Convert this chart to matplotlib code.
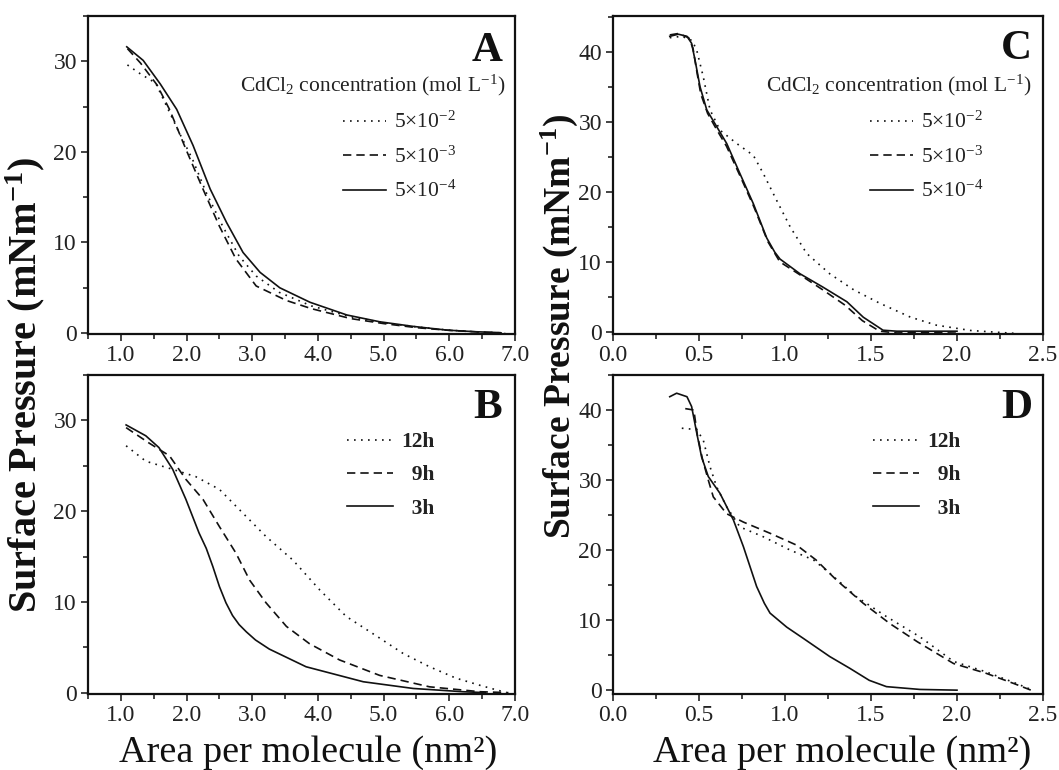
import matplotlib
matplotlib.use("Agg")
import matplotlib.pyplot as plt
from matplotlib.ticker import MultipleLocator, FormatStrFormatter
from matplotlib.lines import Line2D

plt.rcParams['font.family'] = ['Liberation Serif', 'DejaVu Serif']
plt.rcParams['mathtext.fontset'] = 'custom'
plt.rcParams['mathtext.rm'] = 'Liberation Serif'
plt.rcParams['mathtext.it'] = 'Liberation Serif:italic'
plt.rcParams['mathtext.bf'] = 'Liberation Serif:bold'

# ---------------- data ----------------
# Panel A : CdCl2 concentration series
A_x_e2 = [1.10, 1.30, 1.53, 1.70, 1.89, 2.09, 2.30, 2.55, 2.80, 3.06, 3.41, 3.90, 4.50, 5.00, 5.50, 6.00, 6.50, 6.85]
A_y_e2 = [29.6, 28.6, 27.6, 25.0, 22.1, 19.2, 15.5, 11.8, 8.5, 6.3, 4.5, 3.0, 1.8, 1.15, 0.68, 0.32, 0.1, 0.0]
A_x_e3 = [1.10, 1.30, 1.55, 1.74, 1.99, 2.25, 2.50, 2.75, 3.06, 3.52, 3.90, 4.50, 5.00, 5.50, 6.00, 6.50, 6.80]
A_y_e3 = [31.4, 29.8, 27.4, 24.7, 20.3, 15.9, 11.8, 8.2, 5.2, 3.6, 2.7, 1.6, 1.05, 0.6, 0.3, 0.1, 0.02]
A_x_e4 = [1.09, 1.34, 1.60, 1.85, 2.10, 2.36, 2.61, 2.86, 3.12, 3.42, 3.88, 4.44, 4.94, 5.45, 5.96, 6.40, 6.77]
A_y_e4 = [31.6, 30.1, 27.5, 24.7, 20.7, 15.9, 12.2, 8.9, 6.7, 5.0, 3.4, 2.0, 1.25, 0.74, 0.33, 0.15, 0.05]

# Panel B : time series
B_x_12h = [1.08, 1.38, 1.79, 2.14, 2.50, 2.80, 3.21, 3.62, 4.03, 4.43, 4.90, 5.30, 5.70, 6.10, 6.47, 6.87]
B_y_12h = [27.2, 25.5, 24.6, 23.8, 22.4, 20.2, 17.2, 14.6, 11.3, 8.4, 6.2, 4.3, 2.85, 1.6, 0.8, 0.0]
B_x_9h = [1.08, 1.43, 1.74, 1.99, 2.25, 2.50, 2.75, 2.96, 3.21, 3.52, 3.87, 4.33, 4.94, 5.70, 6.47, 6.90]
B_y_9h = [29.2, 27.5, 26.1, 23.5, 21.3, 18.3, 15.4, 12.4, 9.9, 7.3, 5.4, 3.6, 1.9, 0.64, 0.1, 0.0]
B_x_3h = [1.08, 1.38, 1.58, 1.79, 1.99, 2.19, 2.30, 2.40, 2.50, 2.60, 2.70, 2.80, 2.91, 3.05, 3.26, 3.82, 4.69, 5.45, 6.21, 6.55]
B_y_3h = [29.5, 28.3, 27.0, 24.6, 21.3, 17.6, 15.9, 13.9, 11.7, 9.9, 8.5, 7.5, 6.7, 5.8, 4.8, 2.85, 1.2, 0.46, 0.1, 0.0]

# Panel C : CdCl2 concentration series
C_x_e2 = [0.33, 0.40, 0.46, 0.487, 0.525, 0.564, 0.622, 0.719, 0.816, 0.874, 0.951, 1.03, 1.126, 1.26, 1.40, 1.55, 1.73, 1.88, 2.08, 2.20, 2.33]
C_y_e2 = [42.0, 42.2, 41.6, 40.2, 36.4, 31.7, 28.8, 26.9, 25.2, 22.6, 18.8, 15.0, 11.2, 8.3, 6.0, 4.1, 2.1, 0.96, 0.2, 0.0, -0.2]
C_x_e3 = [0.33, 0.38, 0.44, 0.465, 0.485, 0.51, 0.55, 0.60, 0.66, 0.74, 0.82, 0.90, 0.97, 1.09, 1.22, 1.35, 1.45, 1.55, 1.65, 1.80, 2.00]
C_y_e3 = [42.4, 42.6, 42.0, 40.5, 37.5, 34.0, 31.2, 29.0, 26.5, 22.2, 17.8, 12.9, 10.0, 8.1, 6.0, 3.8, 1.6, 0.1, -0.15, -0.1, 0.0]
C_x_e4 = [0.33, 0.38, 0.43, 0.457, 0.477, 0.506, 0.545, 0.603, 0.661, 0.738, 0.816, 0.894, 0.94, 0.971, 1.087, 1.22, 1.36, 1.455, 1.57, 1.65, 1.78, 2.00]
C_y_e4 = [42.2, 42.5, 42.2, 41.2, 38.8, 35.0, 31.7, 29.3, 26.9, 22.6, 18.3, 13.4, 11.4, 10.4, 8.3, 6.4, 4.3, 2.1, 0.24, 0.1, 0.1, 0.1]

# Panel D : time series
D_x_12h = [0.40, 0.487, 0.525, 0.564, 0.603, 0.66, 0.738, 0.874, 1.03, 1.165, 1.26, 1.417, 1.59, 1.785, 1.98, 2.17, 2.33, 2.43]
D_y_12h = [37.4, 37.2, 35.7, 31.9, 29.0, 26.2, 23.3, 21.9, 20.0, 18.6, 16.7, 13.3, 10.5, 7.6, 4.1, 2.6, 1.1, 0.1]
D_x_9h = [0.42, 0.47, 0.49, 0.52, 0.554, 0.583, 0.66, 0.758, 0.913, 1.068, 1.18, 1.30, 1.455, 1.61, 1.77, 1.98, 2.17, 2.33, 2.43]
D_y_9h = [40.2, 40.0, 36.5, 33.0, 30.0, 27.6, 25.2, 24.0, 22.4, 20.7, 18.6, 15.7, 12.4, 9.5, 6.9, 3.8, 2.4, 0.95, 0.0]
D_x_3h = [0.33, 0.37, 0.43, 0.457, 0.487, 0.515, 0.554, 0.622, 0.70, 0.758, 0.835, 0.88, 0.913, 1.01, 1.106, 1.26, 1.378, 1.49, 1.59, 1.785, 2.00]
D_y_3h = [41.9, 42.4, 41.9, 40.5, 36.7, 33.3, 30.5, 28.1, 24.3, 20.5, 14.8, 12.4, 11.0, 9.0, 7.4, 4.8, 3.1, 1.4, 0.5, 0.1, 0.0]

conc_labels = ['5\u00d710$^{-2}$', '5\u00d710$^{-3}$', '5\u00d710$^{-4}$']
time_labels = ['12h', '  9h', '  3h']
panel_letters = ['A', 'B', 'C', 'D']
legend_title = 'CdCl$_2$ concentration (mol L$^{-1}$)'
xlabel = 'Area per molecule (nm\u00b2)'
ylabel = 'Surface Pressure (mNm$^{\\mathbf{-1}}$)'

# ---------------- styles ----------------
DOT = (0, (1.0, 3.2))
DASH = (0, (5.0, 3.0))
SOLID = '-'
styles = [DOT, DASH, SOLID]
LW = 1.2
INK = '#111111'

fig = plt.figure(figsize=(10.59, 7.70), dpi=100)
W, H = 1059.0, 770.0

def rect(l, r, t, b):
    return [l / W, 1 - b / H, (r - l) / W, (b - t) / H]

axA = fig.add_axes(rect(88, 515, 16, 334))
axB = fig.add_axes(rect(88, 515, 375, 694))
axC = fig.add_axes(rect(613, 1043, 16, 334))
axD = fig.add_axes(rect(613, 1043, 375, 694))

def style_axis(ax, xlim, ylim, xmaj, xmin, ymaj, ymin, xfmt):
    ax.set_xlim(*xlim)
    ax.set_ylim(*ylim)
    ax.xaxis.set_major_locator(MultipleLocator(xmaj))
    ax.xaxis.set_minor_locator(MultipleLocator(xmin))
    ax.yaxis.set_major_locator(MultipleLocator(ymaj))
    ax.yaxis.set_minor_locator(MultipleLocator(ymin))
    ax.xaxis.set_major_formatter(FormatStrFormatter(xfmt))
    ax.tick_params(which='both', direction='out', top=False, right=False,
                   color=INK, width=1.1, labelsize=17, labelcolor='#222222', pad=3)
    ax.tick_params(which='major', length=5)
    ax.tick_params(which='minor', length=3.5)
    for s in ax.spines.values():
        s.set_linewidth(1.6)
        s.set_color(INK)

style_axis(axA, (0.5, 7.0), (-0.1, 35), 1.0, 0.5, 10, 5, '%.1f')
style_axis(axB, (0.5, 7.0), (-0.15, 35), 1.0, 0.5, 10, 5, '%.1f')
style_axis(axC, (0.0, 2.5), (-0.3, 45.1), 0.5, 0.25, 10, 5, '%.1f')
style_axis(axD, (0.0, 2.5), (-0.55, 45), 0.5, 0.25, 10, 5, '%.1f')

def draw(ax, series):
    for (x, y), ls in zip(series, styles):
        ax.plot(x, y, color=INK, lw=LW, linestyle=ls)

draw(axA, [(A_x_e2, A_y_e2), (A_x_e3, A_y_e3), (A_x_e4, A_y_e4)])
draw(axB, [(B_x_12h, B_y_12h), (B_x_9h, B_y_9h), (B_x_3h, B_y_3h)])
draw(axC, [(C_x_e2, C_y_e2), (C_x_e3, C_y_e3), (C_x_e4, C_y_e4)])
draw(axD, [(D_x_12h, D_y_12h), (D_x_9h, D_y_9h), (D_x_3h, D_y_3h)])

# panel letters
for ax, letter, (xf, yf) in zip([axA, axB, axC, axD], panel_letters,
                                [(0.970, 0.950), (0.970, 0.955), (0.975, 0.956), (0.975, 0.955)]):
    ax.text(xf, yf, letter, transform=ax.transAxes, ha='right', va='top',
            fontsize=31, fontweight='bold', color='#111111')

# legend titles (A, C)
for ax, xf in [(axA, 0.977), (axC, 0.974)]:
    ax.text(xf, 0.783, legend_title, transform=ax.transAxes, ha='right', va='center',
            fontsize=15.5, color='#222222')

def make_legend(ax, labels, anchor, bold, hl):
    handles = [Line2D([], [], color=INK, lw=LW, linestyle=ls) for ls in styles]
    leg = ax.legend(handles, labels, loc='upper left', bbox_to_anchor=anchor,
                    frameon=False, borderpad=0, borderaxespad=0,
                    handlelength=hl, handletextpad=0.35, labelspacing=0.62,
                    prop={'family': 'Liberation Serif', 'size': 15.5,
                          'weight': 'bold' if bold else 'normal'})
    for t in leg.get_texts():
        t.set_color('#222222')
    return leg

make_legend(axA, conc_labels, ((343 - 88) / 427.0, (334 - 112) / 318.0), False, 2.0)
make_legend(axC, conc_labels, ((870 - 613) / 430.0, (334 - 112) / 318.0), False, 2.0)
make_legend(axB, time_labels, ((347 - 88) / 427.0, (694 - 432) / 319.0), True, 2.15)
make_legend(axD, time_labels, ((873 - 613) / 430.0, (694 - 432) / 319.0), True, 2.15)

# axis labels
fig.text(25 / W, 1 - 385 / H, ylabel, rotation=90, ha='center', va='center',
         fontsize=29, fontweight='bold', color='#111111')
fig.text(559 / W, 1 - 326 / H, ylabel, rotation=90, ha='center', va='center',
         fontsize=27, fontweight='bold', color='#111111')
fig.text(308 / W, 1 - 762 / H, xlabel, ha='center', va='baseline',
         fontsize=27.5, color='#111111')
fig.text(842 / W, 1 - 762 / H, xlabel, ha='center', va='baseline',
         fontsize=27.5, color='#111111')

fig.savefig('out.png', dpi=100)
